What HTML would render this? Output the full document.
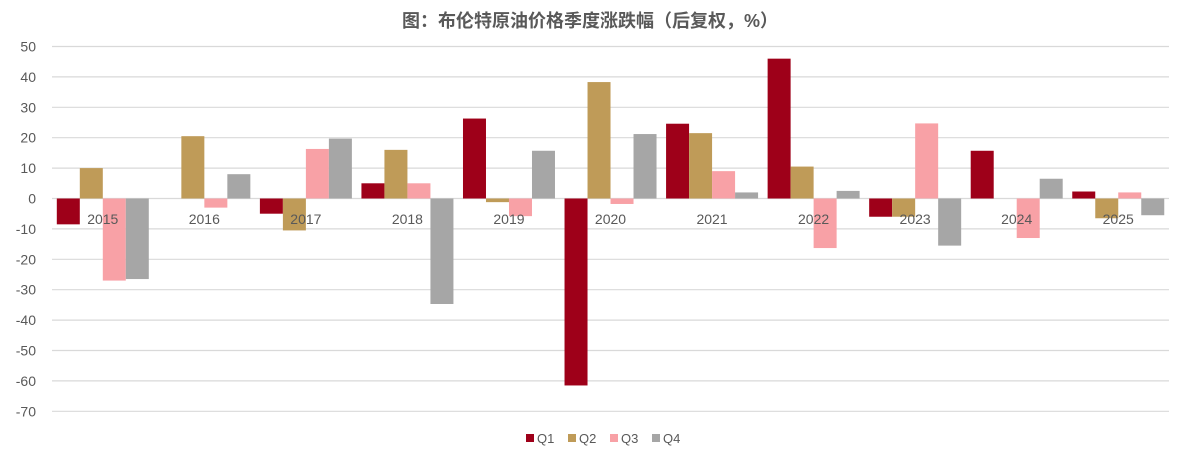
<!DOCTYPE html>
<html><head><meta charset="utf-8"><style>
html,body{margin:0;padding:0;background:#fff;}
svg{display:block;font-family:"Liberation Sans","Noto Sans CJK SC",sans-serif;}
</style></head><body>
<svg id="c" width="1200" height="461" xmlns="http://www.w3.org/2000/svg">
<text x="590" y="27" text-anchor="middle" font-size="18" font-weight="bold" fill="#595959">图：布伦特原油价格季度涨跌幅（后复权，%）</text>
</svg>
<script>
const s=document.getElementById('c');const NS='http://www.w3.org/2000/svg';
function el(t,a,txt){const e=document.createElementNS(NS,t);for(const k in a)e.setAttribute(k,a[k]);if(txt!==undefined)e.textContent=txt;s.appendChild(e);return e;}
const y0=198.5,k=3.04,L=52,R=1169;
for(let v=50;v>=-70;v-=10){const y=y0-v*k;el('line',{x1:L,x2:R,y1:y,y2:y,stroke:'#d9d9d9','stroke-width':1.2});
el('text',{x:36,y:y+5,'text-anchor':'end','font-size':14,fill:'#595959'},v);}
const d=[[-8.5,10,-27,-26.5],[0,20.5,-3,8],[-5,-10.5,16.3,19.7],[5,16,5,-34.7],[26.3,-1.2,-5.8,15.7],[-61.5,38.3,-1.8,21.2],[24.6,21.5,9,2],[46,10.5,-16.3,2.5],[-6,-6,24.7,-15.5],[15.7,0,-13,6.5],[2.3,-6.5,2,-5.5]];
const col=['#9e0019','#bf9b58','#f8a1a6','#a6a6a6'];
const gw=(R-L)/11;
d.forEach((g,i)=>{const gx=L+i*gw;g.forEach((v,j)=>{if(v===0)return;const x=gx+4.8+j*23;const y=v>0?y0-v*k:y0;el('rect',{x:x,y:y,width:23,height:Math.abs(v)*k,fill:col[j]});});
el('text',{x:gx+gw/2,y:224,'text-anchor':'middle','font-size':14,fill:'#595959'},2015+i);});
const lg=[['Q1',526],['Q2',568],['Q3',610],['Q4',652]];
lg.forEach((l,j)=>{el('rect',{x:l[1],y:434,width:8,height:8,fill:col[j]});el('text',{x:l[1]+11,y:443,'font-size':13,fill:'#595959'},l[0]);});
</script>
</body></html>
